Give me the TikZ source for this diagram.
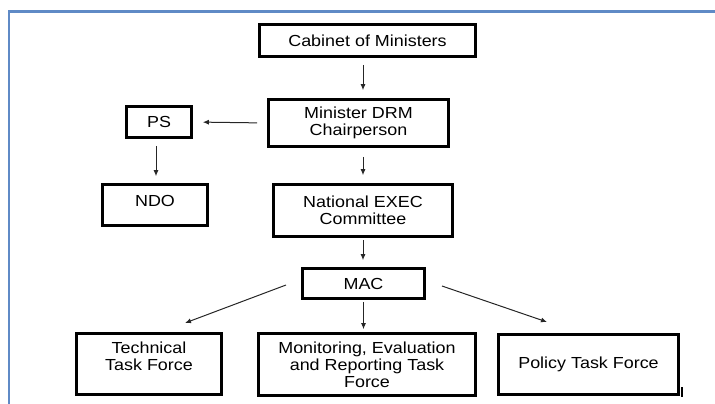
\documentclass[tikz,border=0pt]{standalone}
\usepackage{fontspec}
\setmainfont{Liberation Sans}[FakeStretch=1.12]
\usetikzlibrary{arrows.meta}
\definecolor{frameblue}{RGB}{95,138,198}
\begin{document}
\begin{tikzpicture}[x=1pt,y=-1pt,
  box/.style={draw=black, line width=2.6pt, inner sep=0pt, align=center,
    font=\fontsize{16}{17}\selectfont},
  txt/.style={inner sep=0pt, align=center, font=\fontsize{16}{17}\selectfont},
  conn/.style={draw=black!85, line width=1pt, -{Latex[length=6pt,width=5pt]}}]
\useasboundingbox (0,0) rectangle (715,404);
% frame
\draw[frameblue, line width=2.3pt] (9.3,404) -- (9.3,11.5) -- (715,11.5);
% boxes
\node[box, minimum width=216, minimum height=32] (cab) at (367.5,40.5) {Cabinet of Ministers};
\node[box, minimum width=180, minimum height=47] (min) at (358.5,123) {Minister DRM\\Chairperson};
\node[box, minimum width=179, minimum height=52] (nec) at (363,210.5) {National EXEC\\Committee};
\node[box, minimum width=122, minimum height=30] (mac) at (363.5,283.5) {MAC};
\node[box, minimum width=65, minimum height=31] (ps) at (159,122) {PS};
\node[box, minimum width=105, minimum height=41] (ndo) at (155,205) {};
\node[txt] (ndotxt) at (155,200.5) {NDO};
\node[box, minimum width=145, minimum height=61] (tech) at (149,364) {};
\node[txt] (techtxt) at (149,356) {Technical\\Task Force};
\node[box, minimum width=217, minimum height=62] (mert) at (367,364.5) {Monitoring, Evaluation\\and Reporting Task\\Force};
\node[box, minimum width=180, minimum height=60] (pol) at (588.5,364.5) {Policy Task Force};
% free ends
\coordinate (tA) at (286,285);
\coordinate (tB) at (185,323);
\coordinate (pA) at (442,286);
\coordinate (pB) at (547,322);
% connectors
\draw[conn, shorten <=7pt, shorten >=8pt] (cab.south -| nec.south) -- (min.north -| nec.north);
\draw[conn, shorten <=9pt, shorten >=8pt] (min.south -| nec.north) -- (nec.north);
\draw[conn, shorten <=2pt, shorten >=7pt] (nec.south) -- (mac.north -| nec.south);
\draw[conn, shorten <=2pt, shorten >=3pt] (mac.south) -- (mac.south |- mert.north);
\draw[conn, shorten <=10pt, shorten >=10pt] (min.west) -- (ps.east);
\draw[conn, shorten <=7pt, shorten >=7pt] ([xshift=-3pt]ps.south) -- ([xshift=-3pt]ps.south |- ndo.north);
\draw[conn] (tA) -- (tB);
\draw[conn] (pA) -- (pB);
% small tick beside policy box
\draw[black, line width=2pt] (682,387) -- (682,397);
\end{tikzpicture}
\end{document}
